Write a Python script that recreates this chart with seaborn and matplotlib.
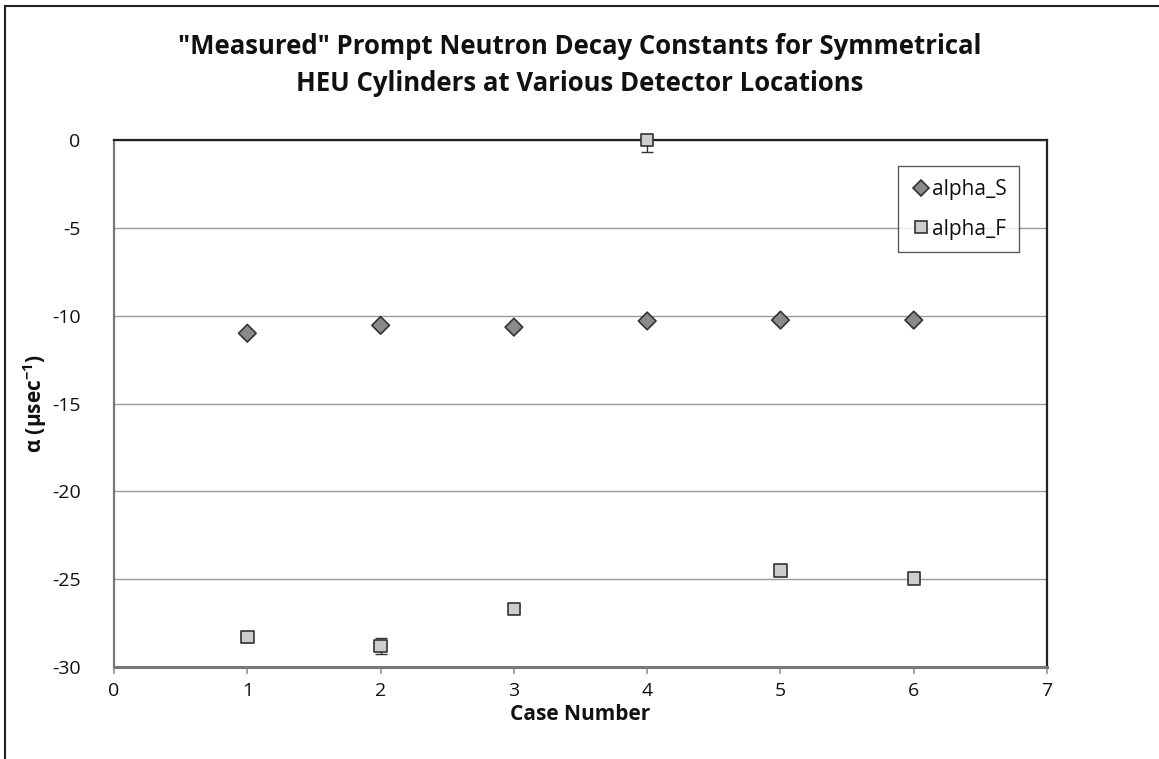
import matplotlib
matplotlib.use("Agg")
import matplotlib.pyplot as plt
import seaborn as sns
import pandas as pd
from matplotlib.patches import Rectangle

cases = [1, 2, 3, 4, 5, 6]
alpha_s = [-11.0, -10.55, -10.65, -10.3, -10.25, -10.25]
alpha_s_err_lo = [0.1, 0.1, 0.1, 0.1, 0.1, 0.1]
alpha_s_err_hi = [0.1, 0.1, 0.1, 0.1, 0.1, 0.1]
alpha_f = [-28.3, -28.8, -26.7, 0.0, -24.5, -24.95]
alpha_f_err_lo = [0.3, 0.45, 0.15, 0.7, 0.15, 0.15]
alpha_f_err_hi = [0.3, 0.45, 0.15, 0.0, 0.15, 0.15]

x_ticks = [0, 1, 2, 3, 4, 5, 6, 7]
y_ticks = [0, -5, -10, -15, -20, -25, -30]

sns.set_theme(style="white")
plt.rcParams["font.family"] = ["Open Sans", "DejaVu Sans"]
plt.rcParams["axes.unicode_minus"] = False
plt.rcParams["mathtext.fontset"] = "custom"
plt.rcParams["mathtext.rm"] = "Open Sans"
plt.rcParams["mathtext.bf"] = "Open Sans:bold"
plt.rcParams["text.color"] = "#111111"
plt.rcParams["axes.labelcolor"] = "#111111"

df = pd.DataFrame({
    "case": cases * 2,
    "alpha": alpha_s + alpha_f,
    "err_lo": alpha_s_err_lo + alpha_f_err_lo,
    "err_hi": alpha_s_err_hi + alpha_f_err_hi,
    "series": ["alpha_S"] * 6 + ["alpha_F"] * 6,
})

fig = plt.figure(figsize=(11.59, 7.59), dpi=100)
ax = fig.add_axes([0.0984, 0.1212, 0.805, 0.6943])

# error bars first, under the markers
for name, sub in df.groupby("series"):
    ax.errorbar(sub["case"], sub["alpha"], yerr=[sub["err_lo"], sub["err_hi"]],
                fmt="none", ecolor="#333333", elinewidth=1.0, capsize=4,
                capthick=1.0, zorder=2, clip_on=False)

sns.scatterplot(data=df, x="case", y="alpha", hue="series", style="series",
                hue_order=["alpha_S", "alpha_F"], style_order=["alpha_S", "alpha_F"],
                palette={"alpha_S": "#8a8a8a", "alpha_F": "#cdcdcd"},
                markers={"alpha_S": "D", "alpha_F": "s"},
                s=80, edgecolor="#333333", linewidth=1.2, ax=ax, zorder=4,
                clip_on=False)

ax.set_xlim(0, 7)
ax.set_ylim(-30, 0)
ax.set_xticks(x_ticks)
ax.set_yticks(y_ticks)
ax.tick_params(axis="both", labelsize=14, colors="#111111")
ax.tick_params(axis="x", length=5, direction="out", bottom=True, color="#999999", pad=6)
ax.tick_params(axis="y", length=0, pad=24)
ax.yaxis.grid(True, color="#999999", linewidth=1.0)
ax.set_axisbelow(True)
for side, sp in ax.spines.items():
    sp.set_visible(True)
    sp.set_color("#222222")
    sp.set_linewidth(1.6)
    sp.set_zorder(3)
ax.spines["bottom"].set_color("#777777")
ax.spines["bottom"].set_linewidth(2.2)
ax.spines["left"].set_color("#777777")
ax.spines["left"].set_linewidth(1.6)

ax.set_xlabel("Case Number", fontsize=15, fontweight="bold", labelpad=3)
ax.set_ylabel(r"α (μsec$^{\mathbf{-1}}$)", fontsize=15, fontweight="bold")
ax.yaxis.set_label_coords(-0.07, 0.5)

fig.suptitle('"Measured" Prompt Neutron Decay Constants for Symmetrical\n'
             'HEU Cylinders at Various Detector Locations',
             fontsize=18.5, fontweight="bold", y=0.957, linespacing=1.5, color="#111111")

leg = ax.legend(loc="upper right", bbox_to_anchor=(0.97, 0.95), fontsize=15,
                frameon=True, fancybox=False, edgecolor="#333333",
                handletextpad=0.0, borderpad=0.6, labelspacing=0.9,
                handlelength=1.0, markerscale=0.9, borderaxespad=0)
leg.get_frame().set_linewidth(1.0)

# outer chart border
fig.patches.append(Rectangle((0.0045, -0.05), 1.1, 1.042, transform=fig.transFigure,
                             fill=False, edgecolor="#222222", linewidth=1.5))

fig.savefig("out.png", dpi=100, facecolor="white")
